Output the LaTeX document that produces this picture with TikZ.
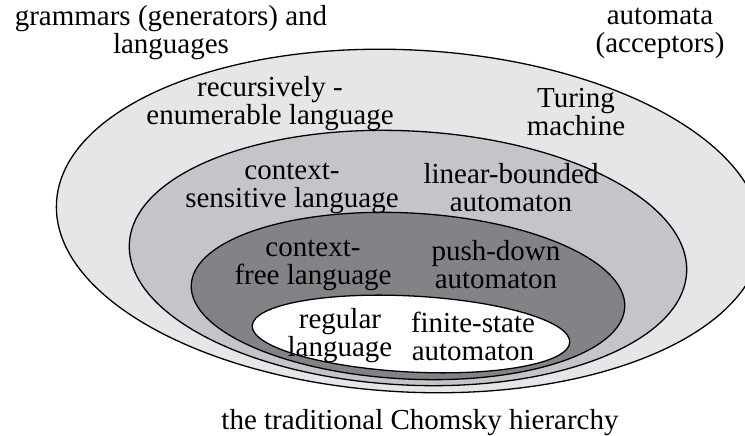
\documentclass[tikz,border=0pt]{standalone}
\usepackage{fontspec}
\setmainfont{Liberation Serif}
\usepackage{tikz}
\definecolor{relayer}{RGB}{229,230,232}
\definecolor{cslayer}{RGB}{196,197,200}
\definecolor{cflayer}{RGB}{130,131,134}
\tikzset{
  layer/.style={draw=black, line width=1.3pt},
  lbl/.style={align=center, inner sep=0pt, font=\fontsize{29}{28}\selectfont},
}

\begin{document}
\begin{tikzpicture}[x=1pt, y=1pt]
  \clip (0,0) rectangle (745,436);
  \fill[white] (0,0) rectangle (745,436);

  % nested language classes
  \filldraw[layer, fill=relayer, rotate around={-3:(409,215)}] (409,215) ellipse [x radius=353, y radius=171];
  \filldraw[layer, fill=cslayer, rotate around={-3:(408,178)}] (408,178) ellipse [x radius=279, y radius=127];
  \filldraw[layer, fill=cflayer, rotate around={-3:(408,140)}] (408,140) ellipse [x radius=217, y radius=83];
  \filldraw[layer, fill=white, rotate around={-3:(411,102)}] (411,102) ellipse [x radius=159, y radius=38];

  \node[lbl] (GRAM) at (171,403) {grammars (generators) and\\languages};
  \node[lbl] (AUTO) at (660,403) {automata\\(acceptors)};
  \node[lbl] (RE) at (270,332) {recursively -\\enumerable language};
  \node[lbl] (TM) at (576,324) {Turing\\machine};
  \node[lbl] (CS) at (292,248) {context-\\sensitive language};
  \node[lbl] (LBA) at (511,248) {linear-bounded\\automaton};
  \node[lbl] (CF) at (313,171) {context-\\free language};
  \node[lbl] (PDA) at (496,171) {push-down\\automaton};
  \node[lbl] (REG) at (340,100) {regular\\language};
  \node[lbl] (FSA) at (473,100) {finite-state\\automaton};
  \node[lbl] (TITLE) at (420,13) {the traditional Chomsky hierarchy};
\end{tikzpicture}
\end{document}
